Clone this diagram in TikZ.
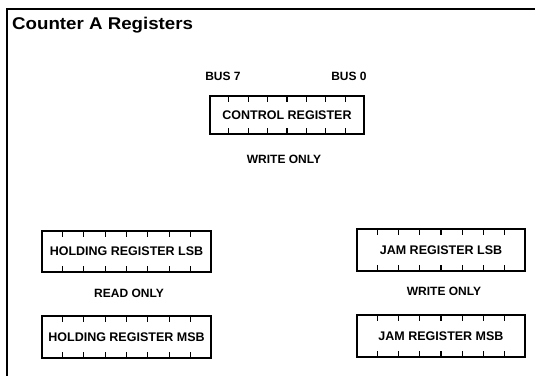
\documentclass[tikz,border=0pt]{standalone}
\usepackage{fontspec}
\setmainfont{Liberation Sans}
\usetikzlibrary{calc}
\tikzset{
  regbox/.style={draw, line width=1.3pt, inner sep=0pt, font=\fontsize{12.5}{14}\selectfont\bfseries},
  lbl/.style={inner sep=0pt, font=\fontsize{12}{14}\selectfont\bfseries},
  frameline/.style={line width=1.6pt},
  tick/.style={line width=1.1pt}
}
\newcommand\bitticks[1]{%
  \foreach \i in {1,...,7}{%
    \draw[tick] ($(#1.north west)!\i/8!(#1.north east)$) -- ++(0,7);
    \draw[tick] ($(#1.south west)!\i/8!(#1.south east)$) -- ++(0,-7);
  }}
\begin{document}
\begin{tikzpicture}[x=1pt,y=-1pt]
\useasboundingbox (0,0) rectangle (535,376);
% frame
\coordinate (fTL) at (7,9);
\coordinate (fTR) at (535,9);
\coordinate (fBL) at (7,376);
\draw[frameline] (fTR) -- (fTL) -- (fBL);
\node[anchor=base west, inner sep=0pt, font=\fontsize{17}{19}\selectfont\bfseries] (title) at (12,29) {\scalebox{1.1}[1]{Counter A Registers}};
% control register
\node[regbox, minimum width=154pt, minimum height=38pt] (ctrl) at (287,115) {CONTROL REGISTER};
\bitticks{ctrl}
\node[lbl] (bus7) at (223,76) {BUS 7};
\node[lbl] (bus0) at (349,76) {BUS 0};
\node[lbl] (wo1) at (284,159) {WRITE ONLY};
% holding registers
\node[regbox, minimum width=169pt, minimum height=41pt] (hlsb) at (126.5,251.5) {HOLDING REGISTER LSB};
\bitticks{hlsb}
\node[lbl] (ro) at (129,293) {READ ONLY};
\node[regbox, minimum width=169pt, minimum height=42pt] (hmsb) at (126.5,337) {HOLDING REGISTER MSB};
\bitticks{hmsb}
% jam registers
\node[regbox, minimum width=168pt, minimum height=42pt] (jlsb) at (441,250) {JAM REGISTER LSB};
\bitticks{jlsb}
\node[lbl] (wo2) at (444,291) {WRITE ONLY};
\node[regbox, minimum width=168pt, minimum height=42pt] (jmsb) at (441,336) {JAM REGISTER MSB};
\bitticks{jmsb}
\end{tikzpicture}
\end{document}
